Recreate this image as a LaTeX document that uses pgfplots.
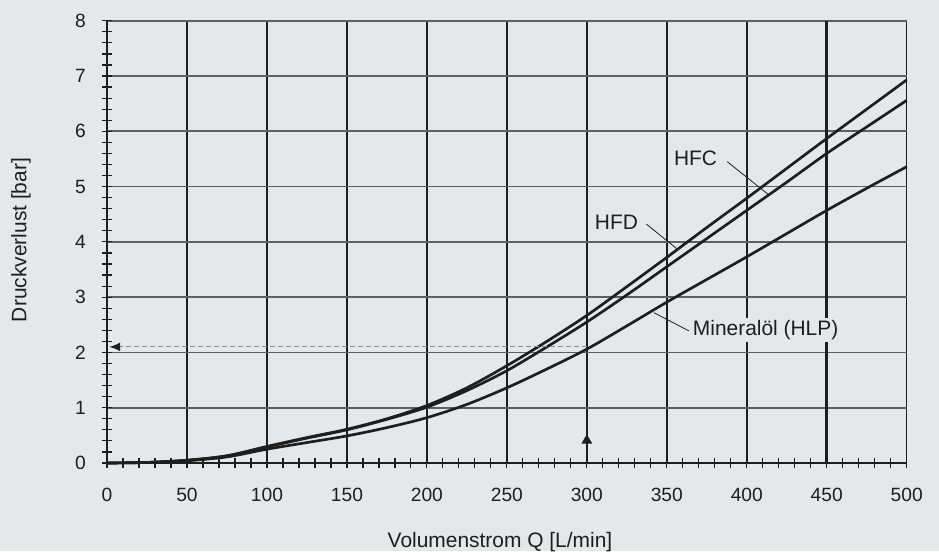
\documentclass[border=0pt]{standalone}
\usepackage{fontspec}
\setmainfont{Liberation Sans}
\usepackage{pgfplots}
\pgfplotsset{compat=1.18}
\usetikzlibrary{arrows.meta}
\definecolor{bg}{RGB}{230,231,233}
\definecolor{gridh}{RGB}{95,95,95}
\definecolor{ink}{RGB}{30,30,30}
\definecolor{dashgray}{RGB}{140,140,140}
\begin{document}
\begin{tikzpicture}
\path[use as bounding box, fill=bg] (0,0) rectangle (704.25pt,413.25pt);
\node[rotate=90, font=\fontsize{15.7pt}{18pt}\selectfont, text=ink] at (15.75pt,233.25pt) {Druckverlust [bar]};
\node[anchor=base, font=\fontsize{15.7pt}{18pt}\selectfont, text=ink] at (375pt,3pt) {Volumenstrom Q [L/min]};
\begin{axis}[
  at={(80.25pt,66pt)}, anchor=south west,
  scale only axis, width=599.8pt, height=331.7pt,
  xmin=0, xmax=500, ymin=0, ymax=8,
  xtick={0,50,...,500}, ytick={0,1,...,8},
  minor x tick num=4, minor y tick num=4,
  xtick pos=bottom, ytick pos=left,
  tick align=center, major tick length=7.5pt, minor tick length=7.5pt,
  tick style={ink, line width=0.9pt},
  xmajorgrids, ymajorgrids,
  major x grid style={ink, line width=1.1pt},
  major y grid style={gridh, line width=1.3pt},
  axis line style={draw=none},
  ticklabel style={font=\fontsize{14.4pt}{16pt}\selectfont, text=ink},
  xticklabel style={anchor=base, yshift=-25.3pt},
  yticklabel style={anchor=east, inner sep=0pt, xshift=-12pt},
  /pgf/number format/assume math mode=true,
  clip=false,
]
\draw[ink, line width=2pt] (axis cs:450,0) -- (axis cs:450,8);
\draw[ink, line width=1.3pt] (axis cs:0,0) -- (axis cs:500,0);
\draw[ink, line width=1.1pt] (axis cs:0,0) -- (axis cs:0,8);

% HFC
\addplot[ink, line width=2pt, smooth, tension=0.5] coordinates {
  (0,0.0) (25,0.01) (50,0.05) (75,0.13) (100,0.30) (125,0.46) (150,0.61) (175,0.80)
  (200,1.04) (225,1.36) (250,1.76) (275,2.20) (300,2.67) (325,3.19)
  (350,3.72) (375,4.26) (400,4.79) (425,5.33) (450,5.87) (475,6.40) (500,6.93)
};
% HFD
\addplot[ink, line width=2pt, smooth, tension=0.5] coordinates {
  (0,0.0) (25,0.01) (50,0.05) (75,0.13) (100,0.29) (125,0.45) (150,0.60) (175,0.79)
  (200,1.01) (225,1.31) (250,1.67) (275,2.10) (300,2.55) (325,3.04)
  (350,3.55) (375,4.06) (400,4.57) (425,5.08) (450,5.60) (475,6.08) (500,6.56)
};
% Mineraloel (HLP)
\addplot[ink, line width=2pt, smooth, tension=0.5] coordinates {
  (0,0.0) (25,0.01) (50,0.04) (75,0.11) (100,0.25) (125,0.37) (150,0.49) (175,0.64)
  (200,0.82) (225,1.06) (250,1.36) (275,1.70) (300,2.06) (325,2.48)
  (350,2.91) (375,3.32) (400,3.73) (425,4.15) (450,4.57) (475,4.97) (500,5.36)
};

\draw[dashgray, line width=0.8pt, dash pattern=on 4pt off 2pt, -{Latex[length=8pt,width=6.5pt,color=ink]}]
  (axis cs:300,2.1) -- (axis cs:1.5,2.1);
\fill[ink] (axis cs:296.6,0.35) -- (axis cs:303.4,0.35) -- (axis cs:300,0.52) -- cycle;

\draw[ink, line width=0.6pt] (axis cs:387.8,5.45) -- (axis cs:413.8,4.85);
\draw[ink, line width=0.6pt] (axis cs:337.3,4.32) -- (axis cs:356.9,3.86);
\draw[ink, line width=0.6pt] (axis cs:363.8,2.39) -- (axis cs:341.9,2.72);
\node[fill=bg, inner sep=1.5pt, text=ink, font=\fontsize{15.7pt}{18pt}\selectfont] at (axis cs:368,5.51) {HFC};
\node[fill=bg, inner sep=1.5pt, text=ink, font=\fontsize{15.7pt}{18pt}\selectfont] at (axis cs:318.5,4.36) {HFD};
\node[fill=bg, inner sep=1.5pt, text=ink, font=\fontsize{15.7pt}{18pt}\selectfont] at (axis cs:411.8,2.41) {Mineralöl (HLP)};
\end{axis}
\end{tikzpicture}
\end{document}
